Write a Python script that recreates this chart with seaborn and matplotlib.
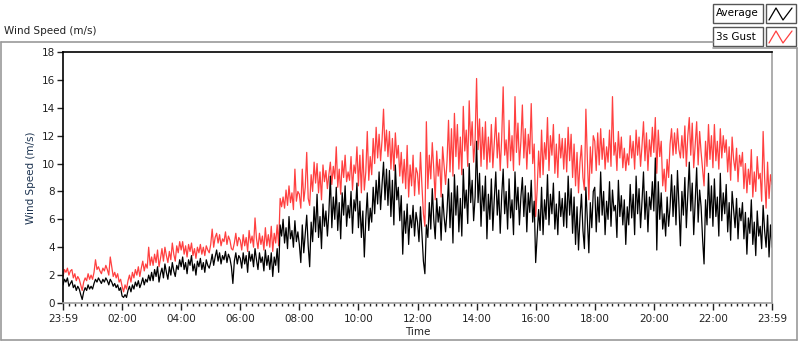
import numpy as np
import pandas as pd
import matplotlib
matplotlib.use("Agg")
import matplotlib.pyplot as plt
import seaborn as sns
from matplotlib.lines import Line2D
from matplotlib.patches import Rectangle

# 3-minute values, one row per hour (23:59 -> 23:59)
average = [
    1.3, 1.7, 1.5, 1.8, 1.2, 1.4, 1.6, 1.1, 1.3, 0.9, 1.2, 1.0, 0.6, 0.25, 0.8, 1.1, 0.9, 1.3, 1.0, 1.2,
    1.0, 1.4, 1.7, 1.5, 1.8, 1.6, 1.4, 1.7, 1.5, 1.8, 1.6, 1.3, 1.7, 1.5, 1.2, 1.4, 1.1, 1.3, 0.9, 1.1,
    0.5, 0.4, 0.6, 0.4, 0.9, 1.2, 0.8, 1.3, 1.0, 1.5, 1.2, 1.6, 1.1, 1.4, 1.8, 1.3, 1.7, 1.5, 2.0, 1.6,
    2.2, 1.6, 2.4, 1.9, 2.6, 1.5, 2.1, 2.5, 1.8, 2.8, 2.2, 1.7, 2.6, 2.0, 2.9, 2.3, 1.9, 2.7, 2.4, 3.1,
    2.6, 3.3, 2.4, 2.9, 2.1, 3.1, 2.7, 3.4, 2.3, 2.8, 2.0, 3.0, 2.6, 3.2, 2.4, 2.9, 2.2, 3.1, 2.7, 2.5,
    2.9, 3.5, 2.7, 3.3, 3.8, 3.0, 3.6, 2.8, 3.4, 3.1, 3.7, 2.9, 3.5, 3.2, 2.6, 1.4, 3.0, 3.6, 2.8, 3.4,
    3.2, 2.5, 3.6, 2.8, 3.4, 2.2, 3.7, 3.0, 3.5, 2.6, 3.9, 3.1, 2.4, 3.6, 2.9, 3.3, 2.3, 3.8, 2.7, 3.4,
    2.4, 3.6, 1.9, 3.3, 2.7, 3.9, 2.2, 5.6, 4.8, 6.0, 4.3, 5.4, 3.9, 6.2, 4.6, 5.2, 4.0, 5.9, 4.4, 5.1,
    4.2, 2.9, 5.6, 3.6, 5.0, 6.3, 4.1, 2.6, 5.8, 4.4, 6.9, 5.1, 7.8, 4.7, 6.2, 3.9, 7.1, 5.5, 6.6, 4.8,
    6.5, 9.1, 5.4, 7.6, 6.0, 8.3, 5.2, 7.2, 4.6, 7.9, 6.3, 8.4, 5.5, 7.0, 6.1, 8.0, 5.0, 7.4, 6.6, 8.6,
    5.4, 7.3, 4.7, 6.6, 3.3, 6.0, 7.9, 5.2, 6.8, 5.8, 8.3, 6.4, 8.8, 7.1, 9.4, 6.7, 8.5, 10.1, 7.4, 9.6,
    7.0, 9.5, 6.2, 8.8, 5.6, 9.9, 7.4, 8.3, 5.9, 7.7, 3.5, 6.6, 5.0, 7.1, 4.2, 6.3, 5.4, 7.0, 4.8, 6.5,
    5.8, 4.4, 6.9, 4.9, 3.0, 2.1, 5.6, 4.7, 7.2, 5.3, 8.2, 6.0, 4.6, 7.5, 5.8, 6.9, 4.5, 7.8, 6.2, 5.1,
    6.6, 8.9, 5.4, 7.9, 4.3, 9.2, 6.3, 8.4, 5.1, 7.5, 4.8, 9.6, 6.8, 8.1, 5.7, 10.0, 7.2, 8.8, 5.9, 7.6,
    11.6, 7.2, 9.3, 5.5, 8.4, 6.6, 9.1, 4.6, 7.8, 6.0, 8.9, 5.2, 7.5, 9.4, 6.3, 8.1, 5.0, 7.7, 9.6, 6.4,
    8.0, 5.3, 8.9, 6.1, 7.4, 4.9, 9.4, 6.7, 8.3, 5.6, 7.6, 9.0, 6.2, 8.4, 5.1, 7.9, 6.5, 8.8, 5.8, 7.3,
    2.9, 4.8, 6.7, 5.2, 8.3, 4.9, 7.4, 6.0, 9.2, 5.6, 7.8, 6.4, 8.6, 5.3, 7.1, 4.9, 8.0, 6.2, 7.5, 5.5,
    7.9, 5.4, 9.1, 6.3, 8.2, 5.0, 7.6, 4.2, 6.9, 3.8, 6.1, 7.8, 5.2, 3.9, 8.3, 6.0, 3.6, 7.2, 5.4, 8.0,
    8.3, 5.1, 7.6, 5.8, 9.4, 6.3, 8.0, 4.9, 7.3, 6.0, 8.7, 5.5, 8.1, 6.6, 7.0, 4.7, 8.8, 6.2, 7.7, 5.6,
    7.4, 4.2, 6.9, 5.6, 8.5, 6.1, 7.8, 4.9, 9.1, 6.4, 8.2, 5.4, 7.3, 9.4, 6.0, 8.0, 5.1, 7.6, 6.7, 8.7,
    6.6, 10.4, 3.8, 8.7, 6.0, 7.9, 5.3, 6.4, 4.8, 7.6, 5.5, 6.9, 9.2, 6.2, 8.4, 5.6, 9.5, 7.0, 4.1, 8.0,
    6.3, 9.0, 5.4, 7.7, 10.1, 6.6, 8.6, 4.9, 7.3, 9.7, 5.8, 8.1, 6.9, 4.6, 2.8, 7.4, 5.6, 9.3, 6.1, 8.4,
    5.5, 8.9, 6.2, 7.6, 4.8, 9.3, 5.9, 7.9, 6.4, 8.5, 5.1, 7.2, 4.5, 8.0, 6.7, 5.4, 7.5, 4.6, 6.8, 5.9,
    7.2, 4.6, 6.5, 3.5, 6.1, 5.0, 7.4, 4.2, 5.8, 3.4, 6.6, 4.8, 5.5, 3.9, 7.0, 5.2, 4.0, 6.3, 3.3, 5.6,
    4.0,
]

gust_3s = [
    1.9, 2.4, 2.2, 2.5, 2.0, 2.3, 2.4, 1.8, 2.1, 1.6, 1.9, 1.7, 1.3, 0.9, 1.5, 1.8, 1.6, 2.1, 1.7, 2.0,
    1.7, 2.2, 3.1, 2.4, 2.6, 2.3, 2.1, 2.5, 2.3, 2.7, 2.4, 2.0, 3.3, 2.6, 1.9, 2.2, 1.8, 2.1, 1.5, 1.7,
    1.2, 0.8, 1.3, 1.0, 1.6, 2.0, 1.5, 2.2, 1.8, 2.4, 2.0, 2.6, 1.9, 2.5, 3.0, 2.3, 2.8, 2.5, 4.0, 2.7,
    3.3, 2.7, 3.5, 2.9, 3.8, 2.6, 3.2, 3.9, 3.0, 4.0, 3.4, 2.9, 3.7, 3.1, 4.3, 3.5, 3.0, 4.1, 3.6, 4.4,
    3.8, 4.4, 3.5, 4.1, 3.3, 4.2, 3.7, 4.3, 3.4, 3.9, 3.2, 4.0, 3.6, 4.2, 3.5, 4.0, 3.4, 4.1, 3.8, 3.6,
    4.2, 5.3, 4.0, 4.7, 5.0, 4.3, 4.9, 4.1, 4.6, 4.4, 5.1, 4.2, 4.8, 4.5, 3.9, 3.8, 4.3, 5.0, 4.1, 4.7,
    4.5, 3.8, 4.9, 4.1, 4.7, 3.7, 5.2, 4.3, 4.8, 4.0, 6.1, 4.6, 3.9, 5.0, 4.2, 4.8, 3.8, 5.4, 4.1, 4.9,
    4.0, 5.5, 3.7, 5.0, 4.3, 5.6, 4.1, 7.5, 6.9, 7.6, 6.8, 8.1, 7.0, 8.4, 7.2, 7.9, 6.7, 9.6, 7.3, 8.0,
    7.8, 6.8, 9.6, 7.3, 8.3, 10.8, 7.5, 7.0, 9.2, 8.0, 10.1, 8.6, 10.0, 7.9, 9.4, 7.4, 9.9, 8.7, 9.5, 8.2,
    9.2, 10.1, 8.5, 9.8, 8.9, 11.2, 8.3, 9.6, 7.8, 10.2, 9.0, 10.6, 8.7, 9.4, 8.8, 10.5, 8.1, 9.9, 9.3, 11.2,
    8.4, 10.6, 7.9, 11.0, 8.1, 9.4, 12.3, 8.8, 10.5, 9.2, 11.8, 10.0, 12.6, 10.4, 12.1, 10.2, 11.7, 13.9, 10.9, 12.4,
    10.5, 12.3, 9.6, 11.8, 9.5, 12.2, 10.4, 11.3, 9.1, 10.8, 8.6, 10.3, 8.2, 11.3, 7.6, 9.9, 8.4, 10.6, 7.7, 9.7,
    9.3, 7.8, 10.8, 8.4, 6.4, 5.5, 13.0, 8.2, 10.6, 8.9, 11.5, 9.6, 7.4, 10.9, 9.1, 10.3, 7.6, 11.2, 9.8, 8.5,
    10.2, 13.1, 9.4, 12.5, 9.1, 13.6, 10.5, 12.8, 9.6, 11.9, 9.2, 14.1, 10.9, 12.4, 9.8, 14.5, 11.3, 13.0, 10.1, 11.7,
    16.1, 11.0, 13.2, 9.8, 12.6, 10.3, 13.0, 9.6, 11.9, 10.1, 12.8, 9.7, 11.5, 13.3, 10.4, 12.2, 9.5, 11.8, 15.5, 10.6,
    11.7, 9.7, 13.1, 10.2, 12.0, 9.5, 14.8, 10.8, 12.9, 9.9, 11.6, 14.2, 10.4, 12.5, 9.6, 12.1, 10.7, 14.3, 10.0, 11.4,
    6.2, 8.1, 10.9, 9.0, 12.4, 9.2, 11.5, 10.3, 13.3, 9.5, 12.0, 10.6, 12.8, 9.3, 11.4, 9.0, 12.1, 10.4, 11.8, 9.6,
    11.8, 9.4, 12.6, 10.2, 12.1, 9.0, 11.4, 8.4, 10.8, 7.9, 10.1, 11.3, 9.0, 8.1, 13.9, 10.3, 7.4, 11.2, 9.3, 12.0,
    11.6, 9.5, 12.2, 9.9, 12.5, 10.3, 11.8, 9.6, 11.2, 10.1, 12.4, 9.8, 14.8, 10.6, 11.5, 9.5, 12.3, 10.4, 11.9, 9.7,
    11.1, 9.5, 10.7, 9.9, 12.0, 10.4, 11.6, 9.6, 12.4, 10.6, 11.9, 9.8, 11.3, 13.0, 10.2, 12.2, 9.5, 11.7, 10.5, 12.6,
    10.8, 13.3, 9.3, 12.4, 10.5, 11.6, 8.4, 9.6, 8.0, 10.3, 9.0, 11.4, 12.5, 10.6, 12.2, 10.7, 12.5, 11.0, 10.4, 12.0,
    10.4, 12.7, 9.8, 12.0, 13.3, 10.6, 12.9, 9.7, 11.4, 13.0, 9.9, 12.3, 10.8, 9.6, 8.4, 11.6, 9.8, 12.8, 10.3, 12.0,
    9.7, 12.8, 10.2, 11.6, 9.6, 12.5, 10.4, 12.0, 10.8, 11.7, 9.4, 11.2, 8.8, 11.9, 10.3, 9.5, 11.1, 8.7, 10.6, 9.8,
    10.8, 8.2, 10.0, 7.9, 9.6, 8.5, 11.0, 7.6, 9.4, 8.0, 10.5, 8.9, 9.3, 7.3, 12.3, 9.0, 6.8, 10.1, 7.5, 9.2,
    8.5,
]

tick_hours = [0, 2, 4, 6, 8, 10, 12, 14, 16, 18, 20, 22, 24]
tick_labels = ["23:59", "02:00", "04:00", "06:00", "08:00", "10:00", "12:00",
               "14:00", "16:00", "18:00", "20:00", "22:00", "23:59"]

print(len(average), len(gust_3s))
hours = np.linspace(0, 24, len(average))
df = pd.DataFrame({"hours": hours, "Average": average, "3s Gust": gust_3s})

sns.set_style("white")
plt.rcParams["font.family"] = ["DejaVu Sans"]

W, H = 800, 342
fig = plt.figure(figsize=(W / 100, H / 100), dpi=100)
ax = fig.add_axes([63 / W, 1 - 303 / H, 709 / W, 251 / H])

sns.lineplot(data=df, x="hours", y="3s Gust", color="#ff4040", lw=0.9, ax=ax)
sns.lineplot(data=df, x="hours", y="Average", color="black", lw=0.9, ax=ax)

ax.set_xlim(0, 24)
ax.set_ylim(0, 18)
ax.set_yticks(range(0, 19, 2))
ax.set_xticks(tick_hours)
ax.set_xticklabels(tick_labels)
ax.set_xticks(np.arange(0, 24.01, 0.2), minor=True)
ax.tick_params(axis="both", which="major", labelsize=7.5, colors="#222222",
               length=4, width=1, direction="out", pad=2)
ax.tick_params(axis="x", which="minor", length=2.5, width=1, direction="out",
               colors="#222222", bottom=True)
ax.tick_params(axis="x", which="major", bottom=True, length=5, pad=3)
ax.tick_params(axis="y", which="major", left=True)

for side in ["left", "top"]:
    ax.spines[side].set_color("black")
    ax.spines[side].set_linewidth(1.2)
for side in ["right", "bottom"]:
    ax.spines[side].set_color("#a0a0a0")
    ax.spines[side].set_linewidth(1.2)

ax.set_xlabel("Time", fontsize=7.5, color="#222222", labelpad=2)
ax.set_ylabel("Wind Speed (m/s)", fontsize=7.5, color="#1c3350", labelpad=4)


def fx(x):
    return x / W


def fy(y):
    return 1 - y / H


# outer panel frame
frame_col = "#9a9a9a"
for xs, ys in [([1, 713], [42, 42]), ([1, 1], [42, 340]), ([1, 797], [340, 340]),
               ([797, 797], [48, 340]), ([713, 797], [48, 48])]:
    fig.add_artist(Line2D([fx(v) for v in xs], [fy(v) for v in ys],
                          color=frame_col, lw=1.2))

fig.text(fx(4), fy(31), "Wind Speed (m/s)", fontsize=7.5, color="#222222",
         va="center", ha="left")

# legend
for i, (name, col) in enumerate([("Average", "black"), ("3s Gust", "#ff4040")]):
    y0 = 4 + i * 23
    fig.add_artist(Rectangle((fx(713), fy(y0 + 19)), 50 / W, 19 / H,
                             transform=fig.transFigure, facecolor="white",
                             edgecolor="#555555", lw=1))
    fig.add_artist(Rectangle((fx(766), fy(y0 + 19)), 30 / W, 19 / H,
                             transform=fig.transFigure, facecolor="white",
                             edgecolor="#555555", lw=1))
    fig.text(fx(716), fy(y0 + 9.5), name, fontsize=7.5, color="black",
             va="center", ha="left")
    zx = [769, 776, 783, 792]
    zy = [y0 + 16, y0 + 4, y0 + 16, y0 + 4]
    fig.add_artist(Line2D([fx(v) for v in zx], [fy(v) for v in zy],
                          color=col, lw=0.9))

fig.savefig("out.png", dpi=100)
